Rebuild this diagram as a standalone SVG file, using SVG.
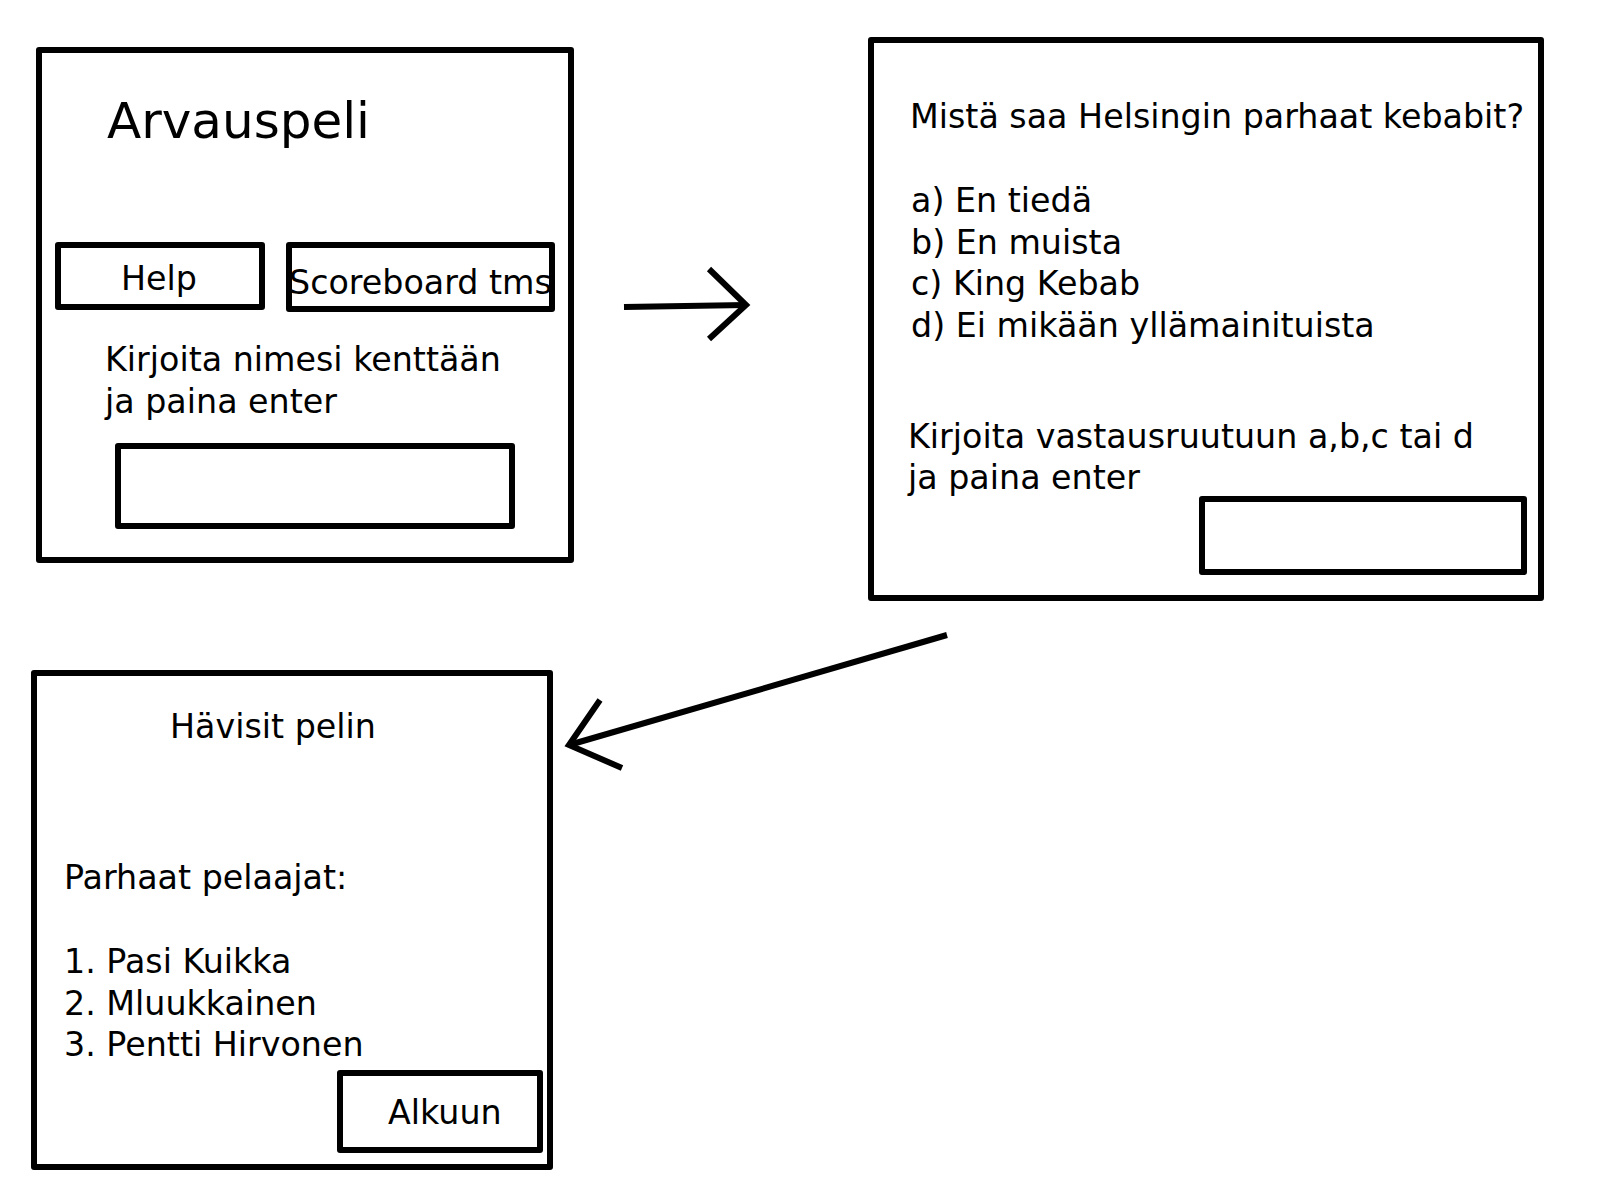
<svg xmlns="http://www.w3.org/2000/svg" width="1600" height="1200" viewBox="0 0 1600 1200">
<style>
.box{fill:none;stroke:#000;stroke-width:6;stroke-linejoin:round}
.ln{fill:none;stroke:#000;stroke-width:6;stroke-linecap:butt}
text{font-family:"DejaVu Sans","Liberation Sans",sans-serif;font-size:33.3px;fill:#000}
</style>
<rect width="1600" height="1200" fill="#fff"/>
<g id="screen-start">
<rect class="box" x="39" y="50" width="532" height="510"/>
<text x="107" y="138" style="font-size:50px">Arvauspeli</text>
<g id="btn-help">
<rect class="box" x="58" y="245" width="204" height="62"/>
<text x="121" y="290">Help</text>
</g>
<g id="btn-scoreboard">
<rect class="box" x="289" y="245" width="263" height="64"/>
<text x="289" y="294">Scoreboard tms</text>
</g>
<text x="105" y="371">Kirjoita nimesi kenttään</text>
<text x="105" y="413">ja paina enter</text>
<rect id="input-name" class="box" x="118" y="446" width="394" height="80"/>
</g>
<g id="screen-question">
<rect class="box" x="871" y="40" width="670" height="558"/>
<text x="910" y="128">Mistä saa Helsingin parhaat kebabit?</text>
<text x="911" y="212">a) En tiedä</text>
<text x="911" y="254">b) En muista</text>
<text x="911" y="295">c) King Kebab</text>
<text x="911" y="337">d) Ei mikään yllämainituista</text>
<text x="908" y="448">Kirjoita vastausruutuun a,b,c tai d</text>
<text x="908" y="489">ja paina enter</text>
<rect id="input-answer" class="box" x="1202" y="499" width="322" height="73"/>
</g>
<g id="screen-lost">
<rect class="box" x="34" y="673" width="516" height="494"/>
<text x="170" y="738">Hävisit pelin</text>
<text x="64" y="889">Parhaat pelaajat:</text>
<text x="64" y="973">1. Pasi Kuikka</text>
<text x="64" y="1015">2. Mluukkainen</text>
<text x="64" y="1056">3. Pentti Hirvonen</text>
<g id="btn-alkuun">
<rect class="box" x="340" y="1073" width="200" height="77"/>
<text x="388" y="1124">Alkuun</text>
</g>
</g>
<g id="connectors">
<line class="ln" x1="624" y1="307" x2="746" y2="305"/>
<polyline class="ln" points="709,269 746,305 709,339"/>
<line class="ln" x1="947" y1="635" x2="569" y2="745"/>
<polyline class="ln" points="600,700 569,745 622,768"/>
</g>
</svg>
